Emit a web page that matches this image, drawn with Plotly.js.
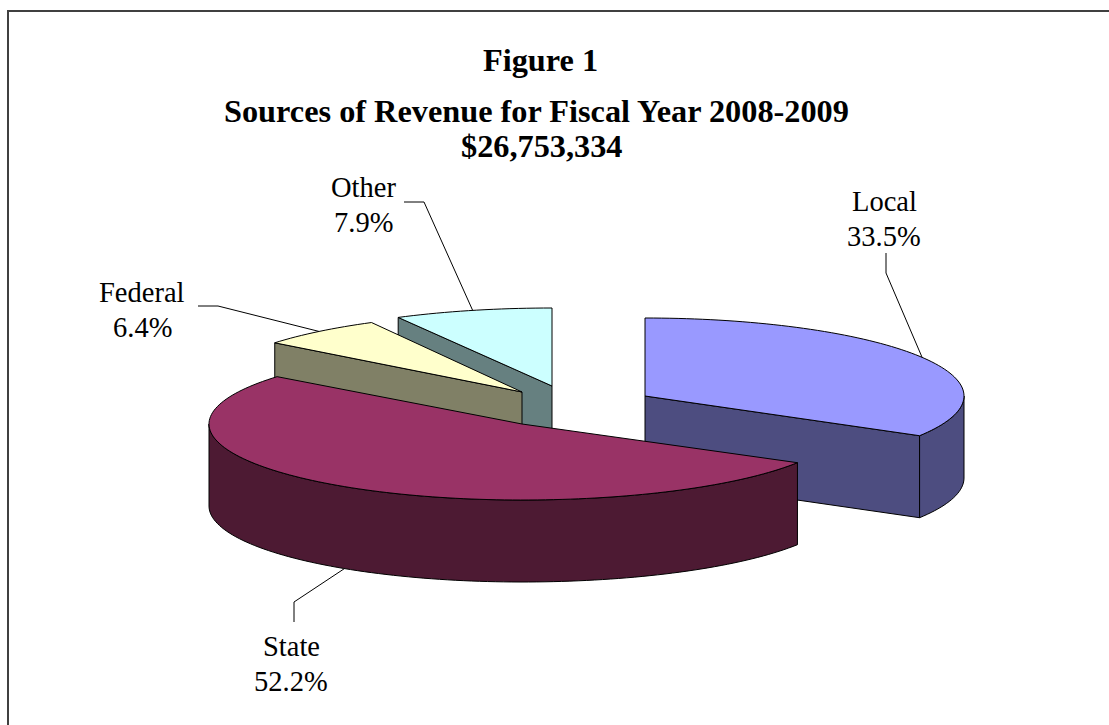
<!DOCTYPE html>
<html>
<head>
<meta charset="utf-8">
<script src="https://cdn.plot.ly/plotly-3.0.1.min.js"></script>
<style>
  html, body { margin: 0; padding: 0; background: #ffffff; }
  #chart { width: 1109px; height: 725px; }
</style>
</head>
<body>
<div id="chart"></div>
<script>
// Revenue shares, in percent, clockwise from twelve o'clock
const sources = ['Local', 'State', 'Federal', 'Other'];
const shares = [33.5, 52.2, 6.4, 7.9];

const titleLines = ['Figure 1', 'Sources of Revenue for Fiscal Year 2008-2009', '$26,753,334'];
const titleCols = [540.5, 536, 541.5];
const titleRows = [59.5, 110.5, 145.5];

const topColors = ['#9999FF', '#993366', '#FFFFCC', '#CCFFFF'];
const wallColors = ['#4D4D80', '#4D1A33', '#808066', '#668080'];

// Pulled-out pie hubs on the drawing plane, one per source
const hubX = [645, 522, 522, 552];
const hubY = [396, 424, 392, 386];

// Tilted pie proportions; the tilt narrows the rim a little differently per slice
const rimRight = [319, 320, 316, 323];
const rimLeft = [319, 313, 316, 323];
const rimHeight = [78, 76, 79, 78];
const depth = 82;

// Leader elbows, leader ends and label centres, one per source
const elbowX = [886, 294, 218, 424];
const elbowY = [273, 602, 306, 202];
const tailX = [886, 294, 198, 404];
const tailY = [253, 622, 306, 202];
const labelX = [884, 291, 142, 363];
const labelY = [201, 646, 292, 187];
const labelGap = 35;

const serif = '"Liberation Serif", "Times New Roman", serif';
const outline = { color: '#000000', width: 1 };

// Angles of each slice's edges, in degrees
const edges = [0];
shares.forEach(s => edges.push(edges[edges.length - 1] + s * 3.6));

function rimPoint(i, deg, drop) {
  const a = deg * Math.PI / 180;
  const sx = Math.sin(a);
  const rx = sx < 0 ? rimLeft[i] : rimRight[i];
  return [hubX[i] + rx * sx, hubY[i] - rimHeight[i] * Math.cos(a) + drop];
}

function arc(i, from, to, drop) {
  const pts = [];
  const steps = Math.max(2, Math.ceil(Math.abs(to - from) / 1.5));
  for (let k = 0; k <= steps; k++) pts.push(rimPoint(i, from + (to - from) * k / steps, drop));
  return pts;
}

function polygon(pts, color, name) {
  const closed = pts.concat([pts[0]]);
  return {
    type: 'scatter', mode: 'lines', name: name,
    x: closed.map(p => p[0]), y: closed.map(p => p[1]),
    fill: 'toself', fillcolor: color, line: Object.assign({ simplify: false }, outline),
    hoverinfo: 'skip', showlegend: false
  };
}

function hubPoint(i, drop) { return [hubX[i], hubY[i] + drop]; }

// The radial wall along a slice edge that faces the viewer
function radialWall(i, deg) {
  return polygon([hubPoint(i, 0), rimPoint(i, deg, 0), rimPoint(i, deg, depth), hubPoint(i, depth)],
    wallColors[i], sources[i] + ' wall');
}

// The curved outer wall between two angles
function outerWall(i, from, to) {
  return polygon(arc(i, from, to, 0).concat(arc(i, to, from, depth)), wallColors[i], sources[i] + ' rim');
}

function topFace(i) {
  return polygon([hubPoint(i, 0)].concat(arc(i, edges[i], edges[i + 1], 0)), topColors[i], sources[i]);
}

const L = 0, S = 1, F = 2, O = 3;

// Painted from the back of the pie towards the viewer
const traces = [
  radialWall(O, edges[O]), topFace(O),
  radialWall(F, edges[F]), topFace(F),
  radialWall(L, edges[L + 1]), outerWall(L, 90, edges[L + 1]), topFace(L),
  outerWall(S, edges[S], 270), topFace(S)
];

// Leader lines start on the rim at the middle of each slice
sources.forEach((name, i) => {
  const mid = (edges[i] + edges[i + 1]) / 2;
  const front = mid > 90 && mid < 270;
  const start = rimPoint(i, mid, front ? depth : 0);
  traces.push({
    type: 'scatter', mode: 'lines', name: name + ' leader',
    x: [start[0], elbowX[i], tailX[i]], y: [start[1], elbowY[i], tailY[i]],
    line: outline, hoverinfo: 'skip', showlegend: false
  });
});

const annotations = [];
titleLines.forEach((text, i) => annotations.push({
  x: titleCols[i], y: titleRows[i], xref: 'x', yref: 'y', showarrow: false,
  text: '<b>' + text + '</b>', font: { family: serif, size: 32.3, color: '#000000' }
}));
sources.forEach((name, i) => {
  annotations.push({
    x: labelX[i], y: labelY[i], xref: 'x', yref: 'y', showarrow: false,
    text: name, font: { family: serif, size: 28.5, color: '#000000' }
  });
  annotations.push({
    x: labelX[i], y: labelY[i] + labelGap, xref: 'x', yref: 'y', showarrow: false,
    text: shares[i].toFixed(1) + '%', font: { family: serif, size: 28.5, color: '#000000' }
  });
});

const layout = {
  width: 1109, height: 725,
  margin: { l: 0, r: 0, t: 0, b: 0 },
  paper_bgcolor: '#ffffff', plot_bgcolor: '#ffffff',
  showlegend: false,
  xaxis: { range: [0, 1109], visible: false, fixedrange: true },
  yaxis: { range: [725, 0], visible: false, fixedrange: true },
  // Chart frame
  shapes: [
    { type: 'line', x0: 7, x1: 1109, y0: 11, y1: 11, line: { color: '#404040', width: 2 } },
    { type: 'line', x0: 8, x1: 8, y0: 10, y1: 725, line: { color: '#404040', width: 2 } }
  ],
  annotations: annotations
};

Plotly.newPlot('chart', traces, layout, { displayModeBar: false, staticPlot: true });
</script>
</body>
</html>
